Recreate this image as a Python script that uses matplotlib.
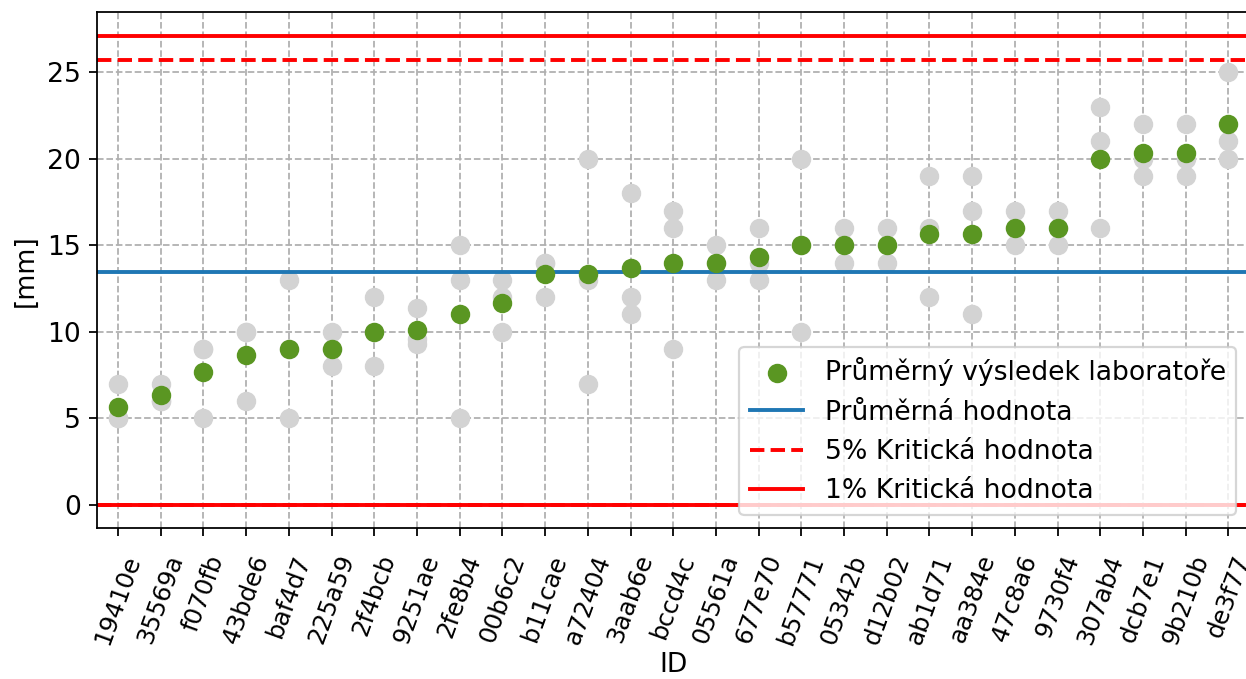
import numpy as np
import matplotlib.pyplot as plt

# ID laboratori
ids = ['19410e', '35569a', 'f070fb', '43bde6', 'baf4d7', '225a59', '2f4bcb', '9251ae',
       '2fe8b4', '00b6c2', 'b11cae', 'a72404', '3aab6e', 'bccd4c', '05561a', '677e70',
       'b57771', '05342b', 'd12b02', 'ab1d71', 'aa384e', '47c8a6', '9730f4', '307ab4',
       'dcb7e1', '9b210b', 'de3f77']

# jednotlive vysledky (3 mereni na laborator)
r1 = [5, 6, 5, 6, 5, 8, 8, 9.3, 5, 10, 12, 7, 11, 9, 13, 13, 10, 14, 14, 12, 11, 15, 15, 16, 19, 19, 20]
r2 = [5, 6, 9, 10, 9, 9, 10, 9.6, 13, 12, 14, 13, 12, 16, 14, 14, 15, 15, 15, 16, 17, 16, 16, 21, 20, 20, 21]
r3 = [7, 7, 9, 10, 13, 10, 12, 11.4, 15, 13, 14, 20, 18, 17, 15, 16, 20, 16, 16, 19, 19, 17, 17, 23, 22, 22, 25]

# kriticke hodnoty
crit5_upper = 25.72
crit1_upper = 27.11
crit5_lower = 0
crit1_lower = 0

results = np.array([r1, r2, r3])
lab_mean = results.mean(axis=0)
total_mean = lab_mean.mean()
x = np.arange(len(ids))

plt.rcParams['font.size'] = 12

fig = plt.figure(figsize=(1246 / 160, 679 / 160), dpi=160)
ax = fig.add_axes([0.0776, 0.222, 0.9254, 0.760])

for r in results:
    ax.scatter(x, r, s=60, color='lightgray', zorder=2)

ax.axhline(total_mean, color='#1f77b4', lw=1.75, label='Průměrná hodnota', zorder=2)
ax.axhline(crit5_upper, color='red', ls='--', lw=1.75, label='5% Kritická hodnota', zorder=2)
ax.axhline(crit1_upper, color='red', ls='-', lw=1.75, label='1% Kritická hodnota', zorder=2)
ax.axhline(crit5_lower, color='red', ls='--', lw=1.75, zorder=2)
ax.axhline(crit1_lower, color='red', ls='-', lw=1.75, zorder=2)

ax.scatter(x, lab_mean, s=60, color='#5a9622', label='Průměrný výsledek laboratoře', zorder=3)

ax.set_xticks(x)
ax.set_xticklabels(ids, rotation=70)
ax.tick_params(axis='x', pad=7, labelsize=11)
ax.set_xlim(-0.5, len(ids) - 0.5)
ax.set_xlabel('ID', labelpad=2)
ax.set_ylabel('[mm]')
ax.grid(linestyle='--')

handles, labels = ax.get_legend_handles_labels()
order = [3, 0, 1, 2]
ax.legend([handles[i] for i in order], [labels[i] for i in order], loc='lower right')

fig.savefig('out.png', dpi=160)
